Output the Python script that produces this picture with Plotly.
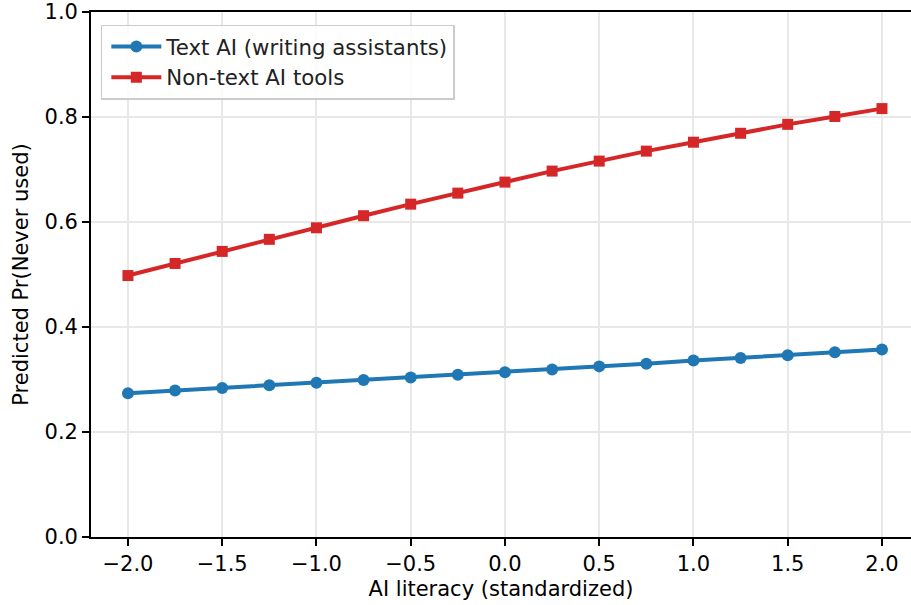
import plotly.graph_objects as go

x_vals = [-2.0, -1.75, -1.5, -1.25, -1.0, -0.75, -0.5, -0.25, 0.0, 0.25, 0.5, 0.75, 1.0, 1.25, 1.5, 1.75, 2.0]
text_ai = [0.274, 0.279, 0.284, 0.289, 0.294, 0.299, 0.304, 0.309, 0.314, 0.319, 0.325, 0.330, 0.336, 0.341, 0.346, 0.352, 0.357]
nontext_ai = [0.498, 0.521, 0.544, 0.567, 0.589, 0.612, 0.634, 0.655, 0.676, 0.697, 0.716, 0.735, 0.752, 0.769, 0.786, 0.801, 0.816]

x_ticks = [-2.0, -1.5, -1.0, -0.5, 0.0, 0.5, 1.0, 1.5, 2.0]
y_ticks = [0.0, 0.2, 0.4, 0.6, 0.8, 1.0]

FONT = "DejaVu Sans"
FS = 21

fig = go.Figure()
fig.add_trace(go.Scatter(
    x=x_vals, y=text_ai, mode="lines+markers", name="Text AI (writing assistants)",
    line=dict(color="#1f77b4", width=4),
    marker=dict(symbol="circle", size=12, color="#1f77b4"),
))
fig.add_trace(go.Scatter(
    x=x_vals, y=nontext_ai, mode="lines+markers", name="Non-text AI tools",
    line=dict(color="#d62728", width=4),
    marker=dict(symbol="square", size=11, color="#d62728"),
))

fig.update_layout(
    width=911, height=605,
    margin=dict(l=91, r=0, t=9, b=68),
    paper_bgcolor="white", plot_bgcolor="white",
    font=dict(family=FONT, size=FS, color="black"),
    showlegend=True,
    legend=dict(
        x=0.012, y=0.976, xanchor="left", yanchor="top",
        bgcolor="rgba(255,255,255,0.8)", bordercolor="#cccccc", borderwidth=1.5,
        font=dict(family=FONT, size=21.3, color="#222"),
        itemwidth=50, tracegroupgap=0, indentation=4,
    ),
    xaxis=dict(
        range=[-2.196, 2.154],
        tickvals=x_ticks, ticktext=[("\u2212" if v < 0 else "") + f"{abs(v):.1f}" for v in x_ticks],
        showgrid=True, gridcolor="#e8e8e8", gridwidth=1.6,
        showline=True, linecolor="black", linewidth=1.7, mirror=True,
        ticks="outside", ticklen=7, tickwidth=1.6, tickcolor="black",
        zeroline=False, ticklabeloverflow="allow",
        title=dict(text="AI literacy (standardized)", font=dict(family=FONT, size=FS), standoff=6),
    ),
    yaxis=dict(
        range=[0, 1.0],
        tickvals=y_ticks, ticktext=[f"{v:.1f}" for v in y_ticks],
        showgrid=True, gridcolor="#e8e8e8", gridwidth=1.6,
        showline=True, linecolor="black", linewidth=1.7,
        ticks="outside", ticklen=7, tickwidth=1.6, tickcolor="black",
        zeroline=False, ticklabeloverflow="allow",
        title=dict(text="Predicted Pr(Never used)", font=dict(family=FONT, size=FS), standoff=10),
    ),
)

fig.write_html(
    "out.html",
    config={"displayModeBar": False},
    post_script="document.body.style.margin='0';document.body.style.overflow='hidden';",
)
